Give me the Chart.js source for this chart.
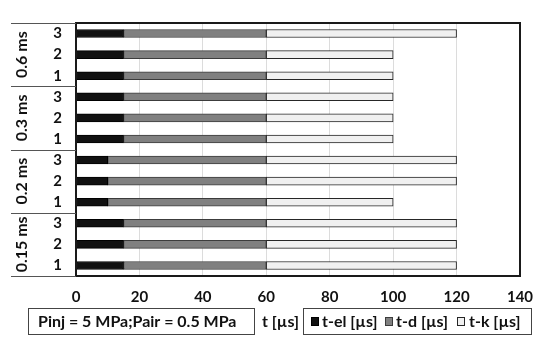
<!DOCTYPE html>
<html>
<head>
<meta charset="utf-8">
<script src="https://cdn.jsdelivr.net/npm/chart.js@4/dist/chart.umd.min.js"></script>
<style>
html,body{margin:0;padding:0;background:#fff;}
#c{display:block;}
</style>
</head>
<body>
<canvas id="c" width="534" height="337"></canvas>
<script>
// ---- data (top row first) ----
const groupLabels = ['0.6 ms', '0.3 ms', '0.2 ms', '0.15 ms'];
const rowLabels = ['3','2','1','3','2','1','3','2','1','3','2','1'];
const tEl = [15,15,15, 15,15,15, 10,10,10, 15,15,15];
const tD  = [45,45,45, 45,45,45, 50,50,50, 45,45,45];
const tK  = [60,40,40, 40,40,40, 60,60,40, 60,60,60];
const seriesNames = ['t-el [µs]', 't-d [µs]', 't-k [µs]'];
const xTicks = [0,20,40,60,80,100,120,140];
const axisTitle = 't [µs]';
const noteText = 'Pinj = 5 MPa;Pair = 0.5 MPa';

const FONT = 'Lato, "Open Sans", sans-serif';
const fills = ['#111111', '#808080', '#f0f0f0'];
const borders = ['#000000', '#3c3c3c', '#262626'];

const decor = {
  id: 'decor',
  afterDraw(chart) {
    const ctx = chart.ctx;
    const a = chart.chartArea;
    const ys = chart.scales.y;
    ctx.save();
    // plot frame
    ctx.strokeStyle = '#1a1a1a';
    ctx.lineWidth = 2;
    ctx.strokeRect(a.left, a.top, a.right - a.left, a.bottom - a.top);
    // group separators
    ctx.strokeStyle = '#555';
    ctx.lineWidth = 1;
    const n = groupLabels.length;
    const per = rowLabels.length / n;
    const step = (a.bottom - a.top) / n;
    for (let k = 0; k <= n; k++) {
      const y = Math.round(a.top + k * step) + 0.5;
      ctx.beginPath();
      ctx.moveTo(11, y);
      ctx.lineTo(a.left, y);
      ctx.stroke();
    }
    // group labels (rotated)
    ctx.fillStyle = '#111';
    ctx.font = 'bold 16px ' + FONT;
    ctx.textAlign = 'center';
    ctx.textBaseline = 'middle';
    for (let g = 0; g < n; g++) {
      const y = (ys.getPixelForValue(g * per) + ys.getPixelForValue(g * per + per - 1)) / 2;
      ctx.save();
      ctx.translate(22, y);
      ctx.rotate(-Math.PI / 2);
      ctx.fillText(groupLabels[g], 0, 0);
      ctx.restore();
    }
    // bottom note box
    ctx.strokeStyle = '#444';
    ctx.lineWidth = 1;
    ctx.strokeRect(28.5, 308.5, 226, 26);
    ctx.textAlign = 'left';
    ctx.fillText(noteText, 38, 322);
    // axis title
    ctx.fillText(axisTitle, 262, 322);
    // legend box
    ctx.strokeRect(303.5, 308.5, 228, 26);
    const itemsX = [[311, 322], [385, 396], [457, 469]];
    for (let i = 0; i < seriesNames.length; i++) {
      const [sx, tx] = itemsX[i];
      ctx.fillStyle = fills[i];
      ctx.fillRect(sx, 317, 8, 9);
      ctx.strokeStyle = borders[i];
      ctx.strokeRect(sx + 0.5, 317.5, 7, 8);
      ctx.fillStyle = '#111';
      ctx.fillText(seriesNames[i], tx, 322);
    }
    ctx.restore();
  }
};

const mk = (i, data) => ({
  label: seriesNames[i],
  data: data,
  backgroundColor: fills[i],
  borderColor: borders[i],
  borderWidth: 1,
  borderSkipped: false,
  barThickness: 8,
  stack: 's'
});

new Chart(document.getElementById('c'), {
  type: 'bar',
  data: {
    labels: rowLabels,
    datasets: [mk(0, tEl), mk(1, tD), mk(2, tK)]
  },
  options: {
    indexAxis: 'y',
    responsive: false,
    animation: false,
    layout: { padding: { top: 7, right: 0, left: 0, bottom: 0 } },
    plugins: { legend: { display: false }, tooltip: { enabled: false } },
    scales: {
      x: {
        stacked: true,
        min: 0, max: 140,
        afterBuildTicks(s) { s.ticks = xTicks.map(v => ({ value: v })); },
        afterFit(s) { s.height = 61; s.paddingRight = 14; s.paddingLeft = 0; },
        grid: { color: '#dcdcdc', drawTicks: false },
        border: { display: false },
        ticks: { color: '#111', font: { family: FONT, size: 15, weight: 'bold' }, padding: 12, maxRotation: 0 }
      },
      y: {
        stacked: true,
        afterFit(s) { s.width = 76; },
        grid: { display: false, drawTicks: false },
        border: { display: false },
        ticks: { color: '#111', font: { family: FONT, size: 15, weight: 'bold' }, padding: 14 }
      }
    }
  },
  plugins: [decor]
});
</script>
</body>
</html>
